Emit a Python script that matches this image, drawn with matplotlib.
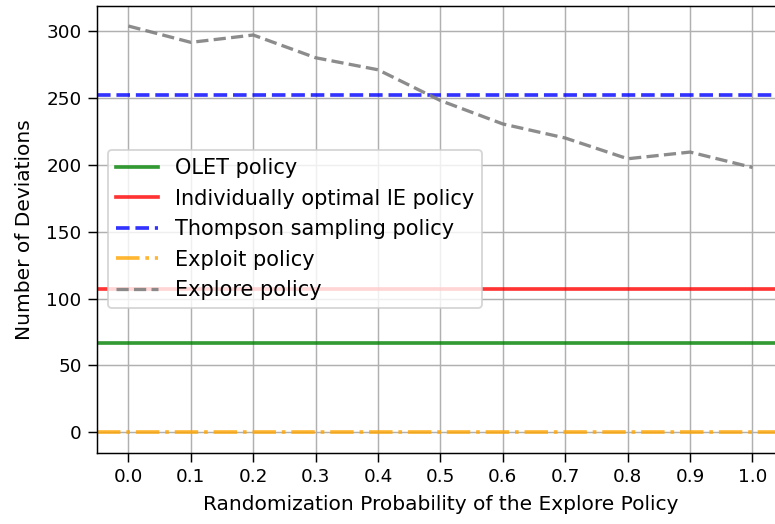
import numpy as np
import matplotlib
matplotlib.use("Agg")
import matplotlib.pyplot as plt

# randomization probabilities of the explore policy
probs = [0.0, 0.1, 0.2, 0.3, 0.4, 0.5, 0.6, 0.7, 0.8, 0.9, 1.0]

# number of deviations for each policy
olet = 67
indiv_ie = 107.5
thompson = 252
exploit = 0
explore = [303.7, 291.5, 297, 280, 271, 248, 230.5, 220, 204.5, 209.5, 198]

plt.rcParams['xtick.major.size'] = 5
plt.rcParams['ytick.major.size'] = 5

fig = plt.figure(figsize=(775 / 132, 524 / 132), dpi=132)
ax = fig.add_axes([0.1255, 0.1361, 0.8857, 0.853])

# constant policies span the whole axis
ax.axhline(olet, color='green', alpha=0.8, lw=2, label='OLET policy')
ax.axhline(indiv_ie, color='red', alpha=0.8, lw=2, label='Individually optimal IE policy')
ax.axhline(thompson, ls='--', color='blue', alpha=0.8, lw=2, label='Thompson sampling policy')
ax.axhline(exploit, ls='-.', color='orange', alpha=0.8, lw=2, label='Exploit policy')
ax.plot(probs, explore, '--', color='gray', alpha=0.9, lw=1.8, label='Explore policy')

ax.set_xticks(probs)
ax.set_xlim(-0.05, 1.05)
ax.set_ylim(-15.2, 318.9)
ax.set_xlabel('Randomization Probability of the Explore Policy', fontsize=11, labelpad=5)
ax.set_ylabel('Number of Deviations', fontsize=11, labelpad=7)
ax.grid(True)
ax.legend(loc='center left', fontsize=11.4)

fig.savefig('out.png', dpi=132)
